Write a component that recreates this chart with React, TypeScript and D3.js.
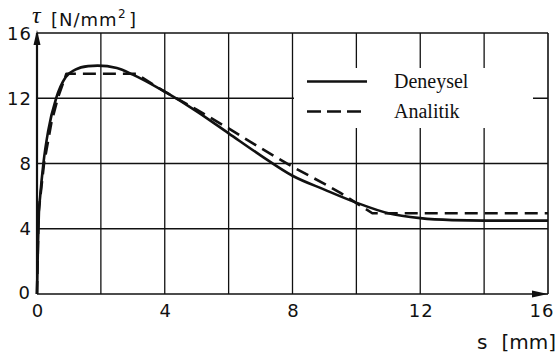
import React, { useRef, useEffect } from "react";
import * as d3 from "d3";

// s [mm] values and tau [N/mm²] readings for the two curves
const DENEYSEL_S = [0, 0.03, 0.06, 0.1, 0.2, 0.35, 0.6, 0.9, 1.2, 1.6, 1.9, 2.5, 3, 4, 5, 6, 7, 8, 9, 10, 11, 12, 13, 14, 16];
const DENEYSEL_T = [0, 3, 5, 6, 8, 10, 12, 13.3, 13.75, 13.97, 14.0, 13.85, 13.45, 12.4, 11.2, 9.85, 8.5, 7.25, 6.4, 5.6, 4.95, 4.65, 4.53, 4.5, 4.5];

const ANALITIK_S = [0, 0.05, 0.22, 0.45, 0.65, 0.92, 3.1, 4, 5, 6, 7, 8, 9, 9.5, 10, 10.5, 16];
const ANALITIK_T = [0, 5, 8, 10.5, 12, 13.5, 13.5, 12.4, 11.3, 10.15, 8.95, 7.8, 6.75, 6.2, 5.57, 4.95, 4.95];

const X_TICKS = [0, 4, 8, 12, 16];
const Y_TICKS = [16, 12, 8, 4, 0];
const X_GRID = [2, 4, 6, 8, 10, 12, 14];
const Y_GRID = [4, 8, 12];

const LEGEND = ["Deneysel", "Analitik"];

const W = 558;
const H = 359;
const SANS = "'DejaVu Sans', Verdana, sans-serif";
const SERIF = "'Liberation Serif', 'Times New Roman', serif";
const INK = "#111";

type Pt = [number, number];

const App: React.FC = () => {
  const svgRef = useRef<SVGSVGElement>(null);

  useEffect(() => {
    const svg = d3.select(svgRef.current);
    svg.selectAll("*").remove();

    const x = d3.scaleLinear().domain([0, 16]).range([37, 548]);
    const y = d3.scaleLinear().domain([0, 16]).range([294, 33]);

    // Grid
    const g = svg.append("g");
    g.selectAll(".vg").data(X_GRID).join("line")
      .attr("x1", d => x(d)).attr("x2", d => x(d))
      .attr("y1", y(0)).attr("y2", y(16))
      .attr("stroke", INK).attr("stroke-width", 1.3);
    g.selectAll(".hg").data(Y_GRID).join("line")
      .attr("x1", x(0)).attr("x2", x(16))
      .attr("y1", d => y(d)).attr("y2", d => y(d))
      .attr("stroke", INK).attr("stroke-width", 1.3);

    // Frame
    g.append("line").attr("x1", x(0)).attr("x2", x(16)).attr("y1", y(16)).attr("y2", y(16))
      .attr("stroke", INK).attr("stroke-width", 1.6);
    g.append("line").attr("x1", x(16)).attr("x2", x(16)).attr("y1", y(16)).attr("y2", y(0))
      .attr("stroke", INK).attr("stroke-width", 1.6);
    g.append("line").attr("x1", x(0)).attr("x2", x(16)).attr("y1", y(0)).attr("y2", y(0))
      .attr("stroke", INK).attr("stroke-width", 1.6);
    g.append("line").attr("x1", x(0)).attr("x2", x(0)).attr("y1", y(0)).attr("y2", y(16))
      .attr("stroke", INK).attr("stroke-width", 2.2);

    // Axis arrows
    const ax0 = x(0), ay16 = y(16);
    g.append("path")
      .attr("d", `M${ax0},${ay16 - 3} L${ax0 - 3.5},${ay16 + 12} L${ax0 + 3.5},${ay16 + 12} Z`)
      .attr("fill", INK);
    const ax16 = x(16), ay0 = y(0);
    g.append("path")
      .attr("d", `M${ax16},${ay0} L${ax16 - 16},${ay0 - 3.5} L${ax16 - 16},${ay0 + 3.5} Z`)
      .attr("fill", INK);

    // Legend background (covers grid)
    svg.append("rect")
      .attr("x", 294).attr("y", 68).attr("width", 239).attr("height", 60)
      .attr("fill", "#fff");

    // Curves
    const line = d3.line<Pt>().x(d => x(d[0])).y(d => y(d[1]));
    const den: Pt[] = DENEYSEL_S.map((s, i) => [s, DENEYSEL_T[i]]);
    const ana: Pt[] = ANALITIK_S.map((s, i) => [s, ANALITIK_T[i]]);

    svg.append("path")
      .datum(ana)
      .attr("d", line.curve(d3.curveLinear))
      .attr("fill", "none").attr("stroke", INK).attr("stroke-width", 2.6)
      .attr("stroke-dasharray", "13,7").attr("stroke-linejoin", "round");

    svg.append("path")
      .datum(den)
      .attr("d", line.curve(d3.curveMonotoneX))
      .attr("fill", "none").attr("stroke", INK).attr("stroke-width", 2.6)
      .attr("stroke-linejoin", "round");

    // Tick labels
    svg.selectAll(".yt").data(Y_TICKS).join("text")
      .attr("x", d => (d === 0 ? 31 : 32)).attr("y", d => y(d) + (d === 0 ? 5 : 6.5))
      .attr("text-anchor", "end")
      .attr("font-family", SANS).attr("font-size", 18).attr("letter-spacing", 1)
      .attr("fill", INK)
      .text(d => String(d));
    svg.selectAll(".xt").data(X_TICKS).join("text")
      .attr("x", d => (d === 16 ? x(d) - 6 : x(d) + 1)).attr("y", 317)
      .attr("text-anchor", "middle")
      .attr("font-family", SANS).attr("font-size", 18).attr("letter-spacing", 1)
      .attr("fill", INK)
      .text(d => String(d));

    // Axis titles
    const tt = svg.append("g").attr("fill", INK).attr("font-family", SANS).attr("font-size", 18);
    tt.append("text").attr("x", 32).attr("y", 23)
      .attr("font-family", SERIF).attr("font-style", "italic").attr("font-size", 24)
      .text("τ");
    tt.append("text").attr("x", 51).attr("y", 26).attr("letter-spacing", 1).text("[N/mm");
    tt.append("text").attr("x", 118).attr("y", 18).attr("font-size", 12).text("2");
    tt.append("text").attr("x", 129).attr("y", 26).text("]");

    tt.append("text").attr("x", 477).attr("y", 349).attr("font-size", 20).text("s");
    tt.append("text").attr("x", 556).attr("y", 349).attr("font-size", 20)
      .attr("text-anchor", "end").text("[mm]");

    // Legend
    const lg = svg.append("g");
    lg.append("line").attr("x1", 307).attr("x2", 367).attr("y1", 81.5).attr("y2", 81.5)
      .attr("stroke", INK).attr("stroke-width", 2.6);
    lg.append("line").attr("x1", 307).attr("x2", 363).attr("y1", 111.5).attr("y2", 111.5)
      .attr("stroke", INK).attr("stroke-width", 2.6).attr("stroke-dasharray", "14,6");
    lg.selectAll("text.lt").data(LEGEND).join("text")
      .attr("x", 394).attr("y", (d, i) => 88 + i * 30)
      .attr("font-family", SERIF).attr("font-size", 20).attr("fill", INK)
      .text(d => d);
  }, []);

  return (
    <svg
      ref={svgRef}
      width={W}
      height={H}
      style={{ position: "absolute", left: 0, top: 0, background: "#fff" }}
    />
  );
};

export default App;
